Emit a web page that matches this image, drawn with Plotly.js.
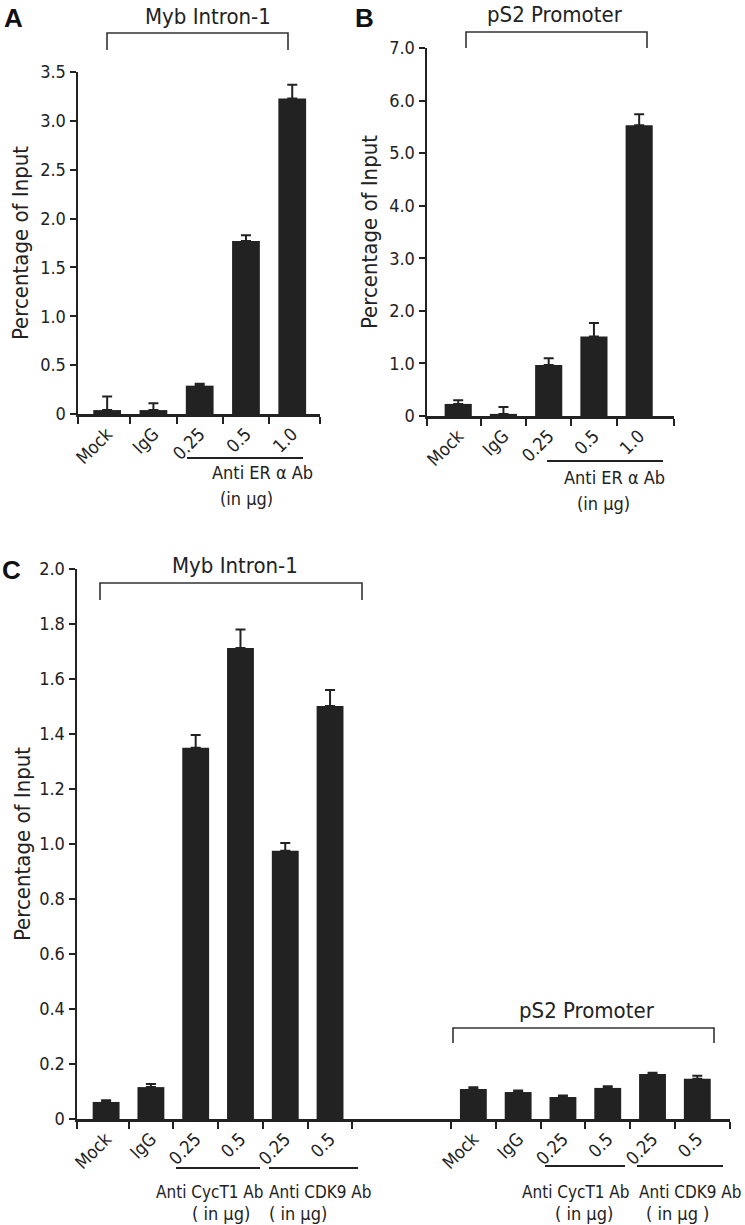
<!DOCTYPE html>
<html>
<head>
<meta charset="utf-8">
<script src="https://cdn.plot.ly/plotly-3.0.1.min.js"></script>
<style>html,body{margin:0;padding:0;background:#fff;}#chart{width:745px;height:1225px;}</style>
</head>
<body>
<div id="chart"></div>
<script>
// ---------- data ----------
const labelsAB = ["Mock", "IgG", "0.25", "0.5", "1.0"];
const mybA = [0.04, 0.04, 0.29, 1.77, 3.23];
const mybAErr = [0.14, 0.07, 0.02, 0.06, 0.14];
const ps2B = [0.23, 0.04, 0.97, 1.51, 5.53];
const ps2BErr = [0.07, 0.13, 0.13, 0.26, 0.21];

const labelsC = ["Mock", "IgG", "0.25", "0.5", "0.25", "0.5"];
const mybC = [0.062, 0.116, 1.35, 1.713, 0.975, 1.502];
const mybCErr = [0.006, 0.011, 0.046, 0.067, 0.029, 0.058];
const ps2C = [0.109, 0.098, 0.080, 0.113, 0.164, 0.146];
const ps2CErr = [0.006, 0.006, 0.005, 0.006, 0.004, 0.011];

const yTicksA = [0, 0.5, 1.0, 1.5, 2.0, 2.5, 3.0, 3.5];
const yTextA = ["0", "0.5", "1.0", "1.5", "2.0", "2.5", "3.0", "3.5"];
const yTicksB = [0, 1, 2, 3, 4, 5, 6, 7];
const yTextB = ["0", "1.0", "2.0", "3.0", "4.0", "5.0", "6.0", "7.0"];
const yTicksC = [0, 0.2, 0.4, 0.6, 0.8, 1.0, 1.2, 1.4, 1.6, 1.8, 2.0];
const yTextC = ["0", "0.2", "0.4", "0.6", "0.8", "1.0", "1.2", "1.4", "1.6", "1.8", "2.0"];

// ---------- layout helpers ----------
const W = 745, H = 1225;
const px = x => x / W;
const py = y => 1 - y / H;
const FONT = "DejaVu Sans Condensed, Liberation Sans, sans-serif";
const INK = "#222222";
const idx = arr => arr.map((_, i) => i);
const GAP_C = 8.2; // offset of the second group in panel C

function bars(x, y, err, xa, ya) {
  return {
    type: "bar", x: x, y: y, xaxis: xa, yaxis: ya, width: 0.6,
    marker: {color: INK, line: {width: 0}},
    error_y: {type: "data", symmetric: false, array: err, arrayminus: err.map(() => 0),
              color: INK, thickness: 2, width: 5},
    showlegend: false, hoverinfo: "x+y"
  };
}

const xA = idx(labelsAB);
const xC1 = idx(labelsC);
const xC2 = idx(labelsC).map(i => i + GAP_C);

const data = [
  bars(xA, mybA, mybAErr, "x", "y"),
  bars(xA, ps2B, ps2BErr, "x2", "y2"),
  bars(xC1, mybC, mybCErr, "x3", "y3"),
  bars(xC2, ps2C, ps2CErr, "x3", "y3")
];

function xAxis(dom, range, tv, tt, minorVals, anchor) {
  return {
    domain: dom, range: range, anchor: anchor, showgrid: false, zeroline: false,
    showline: true, linewidth: 2.5, linecolor: INK,
    tickmode: "array", tickvals: tv, ticktext: tt, tickangle: -45, ticks: "",
    tickfont: {family: FONT, size: 18, color: INK},
    minor: {tickmode: "array", tickvals: minorVals, ticks: "outside", ticklen: 7, tickwidth: 2, tickcolor: INK, showgrid: false}
  };
}
function yAxis(dom, range, tv, tt, anchor, standoff) {
  return {
    domain: dom, range: range, anchor: anchor, showgrid: false, zeroline: false,
    showline: true, linewidth: 2.5, linecolor: INK,
    tickmode: "array", tickvals: tv, ticktext: tt, ticks: "outside", ticklen: 6, tickwidth: 2, tickcolor: INK,
    tickfont: {family: FONT, size: 18, color: INK},
    title: {text: "Percentage of Input", font: {family: FONT, size: 22, color: INK}, standoff: standoff}
  };
}

const rangeA = [-0.63, 4.6];
const rangeB = [-0.69, 4.77];
const rangeC = [-0.65, 13.93];
const minorAB = r => [r[0], 0.5, 1.5, 2.5, 3.5, r[1]];
const minorC = [rangeC[0], 0.5, 1.5, 2.5, 3.5, 4.5, 5.5,
                GAP_C - 0.5, GAP_C + 0.5, GAP_C + 1.5, GAP_C + 2.5, GAP_C + 3.5, GAP_C + 4.5, rangeC[1]];

function txt(x, y, s, size, opts) {
  return Object.assign({xref: "paper", yref: "paper", x: px(x), y: py(y), text: s, showarrow: false,
    font: {family: FONT, size: size, color: INK}, xanchor: "center", yanchor: "middle"}, opts || {});
}
function bracket(x1, x2, yTop, yBot) {
  return {type: "path", xref: "paper", yref: "paper",
    path: `M ${px(x1)},${py(yBot)} L ${px(x1)},${py(yTop)} L ${px(x2)},${py(yTop)} L ${px(x2)},${py(yBot)}`,
    line: {color: "#333", width: 1.6}};
}
function hline(x1, x2, y) {
  return {type: "line", xref: "paper", yref: "paper", x0: px(x1), x1: px(x2), y0: py(y), y1: py(y),
    line: {color: INK, width: 2}};
}
const BOLD = {family: "Liberation Sans, Arial, sans-serif", size: 26, color: "#111"};

const layout = {
  width: W, height: H, margin: {l: 0, r: 0, t: 0, b: 0},
  paper_bgcolor: "#fff", plot_bgcolor: "#fff", bargap: 0.4, showlegend: false,
  xaxis: xAxis([px(78), px(320)], rangeA, xA, labelsAB, minorAB(rangeA), "y"),
  yaxis: yAxis([py(414), py(72)], [0, 3.5], yTicksA, yTextA, "x", 6),
  xaxis2: xAxis([px(427), px(674)], rangeB, xA, labelsAB, minorAB(rangeB), "y2"),
  yaxis2: yAxis([py(416), py(48)], [0, 7], yTicksB, yTextB, "x2", 6),
  xaxis3: xAxis([px(77), px(730)], rangeC, xC1.concat(xC2), labelsC.concat(labelsC), minorC, "y3"),
  yaxis3: yAxis([py(1119), py(569)], [0, 2], yTicksC, yTextC, "x3", 3),
  shapes: [
    bracket(107, 288, 33, 50),
    bracket(466, 647, 32, 48),
    bracket(100, 362, 583, 600),
    bracket(453, 714, 1028, 1043),
    hline(187, 303, 458),
    hline(547, 663, 461),
    hline(176, 260, 1168),
    hline(269, 358, 1168),
    hline(545, 625, 1166),
    hline(637, 723, 1166)
  ],
  annotations: [
    txt(14, 18, "<b>A</b>", 26, {font: BOLD}),
    txt(364, 18, "<b>B</b>", 26, {font: BOLD}),
    txt(11, 570, "<b>C</b>", 26, {font: BOLD}),
    txt(208, 16, "Myb Intron-1", 22),
    txt(555, 14, "pS2 Promoter", 22),
    txt(235, 565, "Myb Intron-1", 22),
    txt(587, 1010, "pS2 Promoter", 22),
    txt(262, 473, "Anti ER α Ab", 18),
    txt(247, 498, "(in μg)", 18),
    txt(614, 477, "Anti ER α Ab", 18),
    txt(603, 503, "(in μg)", 18),
    txt(210, 1192, "Anti CycT1 Ab", 17),
    txt(320, 1192, "Anti CDK9 Ab", 17),
    txt(221, 1213, "( in μg)", 18),
    txt(298, 1213, "( in μg)", 18),
    txt(576, 1192, "Anti CycT1 Ab", 17),
    txt(744, 1192, "Anti CDK9 Ab", 17, {xanchor: "right"}),
    txt(584, 1213, "( in μg)", 18),
    txt(677, 1213, "( in μg )", 18)
  ]
};

Plotly.newPlot("chart", data, layout, {staticPlot: true, displayModeBar: false});
</script>
</body>
</html>
